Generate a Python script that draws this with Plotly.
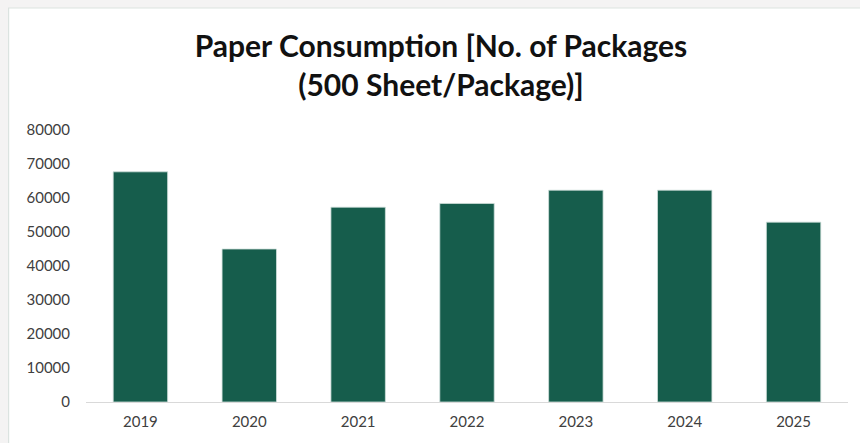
import plotly.graph_objects as go

years = ["2019", "2020", "2021", "2022", "2023", "2024", "2025"]
packages = [67700, 45000, 57300, 58400, 62300, 62300, 52900]
y_ticks = [0, 10000, 20000, 30000, 40000, 50000, 60000, 70000, 80000]

W, H = 860, 443
L, R, T, B = 85.5, 11.5, 130, 41
pw = W - L - R
ph = H - T - B

def px(x):
    return (x - L) / pw

def py(y):
    return (H - B - y) / ph

fig = go.Figure()
fig.add_trace(go.Bar(
    x=years, y=packages,
    marker=dict(color="#165d4c", line=dict(color="#cfe0da", width=0.8)),
    width=0.5,
))

fig.add_shape(type="rect", xref="paper", yref="paper",
              x0=px(8), x1=px(870), y0=py(8), y1=py(460),
              fillcolor="white", line=dict(color="#dbe3e0", width=1.2), layer="below")

fig.update_layout(
    width=W, height=H,
    margin=dict(l=L, r=R, t=T, b=B),
    paper_bgcolor="#f4f3f3",
    plot_bgcolor="white",
    showlegend=False,
    title=dict(
        text="<b>Paper Consumption [No. of Packages<br>(500 Sheet/Package)]</b>",
        x=441 / W, xref="container", xanchor="center",
        y=1 - 57 / H, yref="container", yanchor="middle",
        font=dict(family="Lato, Open Sans, sans-serif", size=30, color="#111111"),
    ),
    font=dict(family="Lato, Open Sans, sans-serif", size=15, color="#404040"),
    xaxis=dict(
        showgrid=False, showline=True, linecolor="#d9d9d9", linewidth=1,
        ticks="", tickfont=dict(size=15, color="#404040"), ticklabelstandoff=6,
    ),
    yaxis=dict(
        range=[0, 80000], tickvals=y_ticks, ticktext=[str(v) for v in y_ticks],
        showgrid=False, zeroline=False, showline=False, ticks="",
        tickfont=dict(size=15, color="#404040"), ticklabelstandoff=15,
    ),
)

fig.write_html("out.html", config={"displayModeBar": False},
               post_script="document.body.style.margin='0';document.body.style.overflow='hidden';")
